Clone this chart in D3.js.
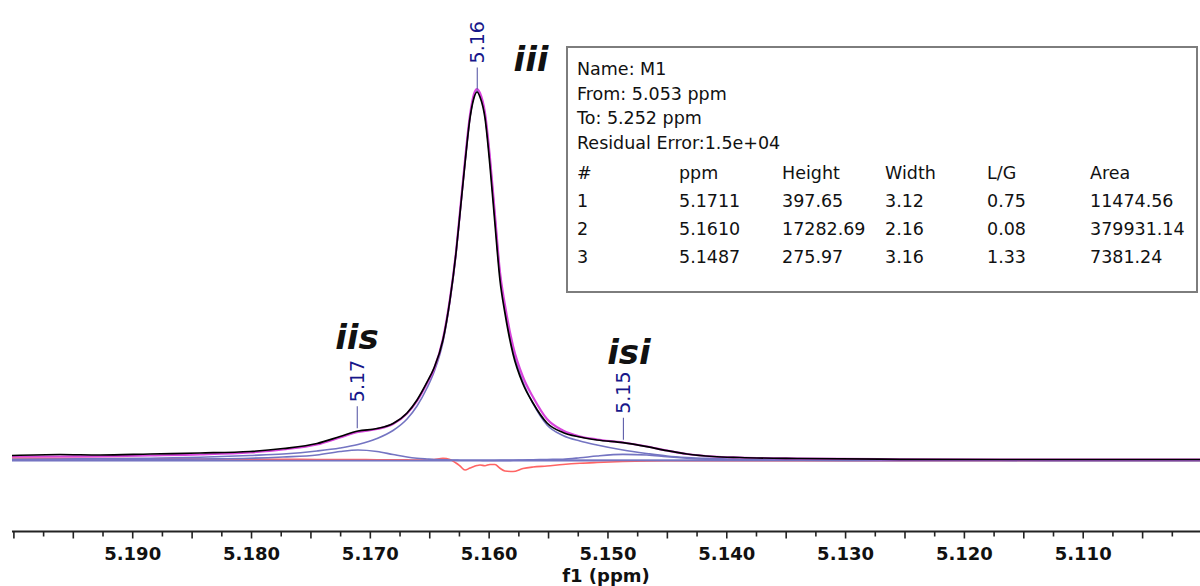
<!DOCTYPE html>
<html>
<head>
<meta charset="utf-8">
<script src="https://cdn.jsdelivr.net/npm/d3@7"></script>
<style>
  html, body { margin: 0; padding: 0; background: #fff; }
  svg { display: block; }
</style>
</head>
<body>
<svg id="chart" width="1200" height="586"></svg>
<script>
// Chemical shift grid (ppm) shared by every trace
const ppm = [5.20016, 5.19612, 5.19275, 5.18854, 5.18434, 5.18013, 5.17735, 5.17449, 5.17255, 5.17104,
  5.16944, 5.16809, 5.16691, 5.16607, 5.16523, 5.16464, 5.16389, 5.16330, 5.16279, 5.16245,
  5.16203, 5.16161, 5.16128, 5.16102, 5.16077, 5.16035, 5.15993, 5.15951, 5.15909, 5.15867,
  5.15799, 5.15715, 5.15631, 5.15513, 5.15379, 5.15236, 5.15092, 5.14874, 5.14672, 5.14503,
  5.14335, 5.14116, 5.13889, 5.13384, 5.12542, 5.11701, 5.10859, 5.10017];

// Measured spectrum
const spectrum = [234, 280, 257, 304, 350, 420, 560, 794, 1121, 1378,
  1494, 1728, 2218, 2825, 3656, 4320, 5627, 7495, 9690, 11558,
  13893, 15995, 16929, 17209, 16975, 15995, 13753, 11045, 8429, 6888,
  4974, 3572, 2685, 1752, 1308, 1097, 957, 831, 644, 458,
  304, 187, 140, 93, 56, 47, 47, 47];

// Sum of fitted lines
const fitSum = [187, 187, 196, 234, 280, 374, 514, 747, 1074, 1331,
  1471, 1705, 2195, 2779, 3609, 4273, 5674, 7542, 9737, 11652,
  14033, 16135, 17116, 17349, 17162, 16228, 14127, 11465, 8803, 7262,
  5347, 3899, 2965, 1938, 1401, 1121, 981, 841, 654, 467,
  304, 187, 140, 93, 56, 47, 47, 47];

// Fitted line 1 (5.1711 ppm)
const line1 = [14, 19, 23, 42, 70, 103, 163, 257, 420, 490,
  420, 280, 163, 107, 70, 47, 37, 23, 19, 14,
  9, 9, 9, 9, 9, 7, 7, 7, 5, 5,
  5, 5, 5, 5, 5, 5, 5, 5, 5, 5,
  5, 5, 5, 5, 3, 2, 1, 0];

// Fitted line 2 (5.1610 ppm)
const line2 = [56, 70, 79, 107, 149, 234, 304, 444, 584, 747,
  1027, 1401, 1938, 2545, 3386, 4133, 5534, 7448, 9644, 11558,
  13940, 16041, 17022, 17279, 17069, 16135, 14033, 11371, 8710, 7075,
  5160, 3666, 2662, 1658, 1168, 911, 724, 490, 327, 210,
  140, 93, 61, 33, 14, 9, 5, 5];

// Fitted line 3 (5.1487 ppm)
const line3 = [0, 0, 0, 0, 0, 0, 0, 0, 0, 0,
  0, 0, 0, 0, 0, 0, 0, 0, 0, 0,
  0, 0, 0, 0, 0, 0, 2, 3, 4, 5,
  9, 23, 33, 47, 61, 126, 210, 286, 257, 173,
  107, 51, 23, 9, 5, 5, 5, 5];

// Residual (measured minus fit)
const residual = [117, 103, 93, 84, 70, 61, 56, 47, 42, 42,
  37, 33, 28, 23, 23, 47, 103, 47, -117, -257,
  -444, -350, -280, -234, -210, -243, -187, -187, -364, -490,
  -514, -374, -304, -257, -187, -131, -93, -47, -23, -14,
  -9, -5, -5, -5, -5, -5, -5, -5];

// Axis ticks
const minorTicks = d3.range(0, 40).map(i => +(5.2 - i * 0.0025).toFixed(4));
const majorTicks = [5.19, 5.18, 5.17, 5.16, 5.15, 5.14, 5.13, 5.12, 5.11];
const axisTitle = "f1 (ppm)";

// Peak picks and their tags
const peakNo = [1, 2, 3];
const peakPpm = [5.1711, 5.1610, 5.1487];
const peakHeight = [397.65, 17282.69, 275.97];
const peakWidth = [3.12, 2.16, 3.16];
const peakLG = [0.75, 0.08, 1.33];
const peakArea = [11474.56, 379931.14, 7381.24];
const peakTags = ["iis", "iii", "isi"];

// Fit report
const fitInfo = ["Name: M1", "From: 5.053 ppm", "To: 5.252 ppm", "Residual Error:1.5e+04"];
const tableHead = ["#", "ppm", "Height", "Width", "L/G", "Area"];

const svg = d3.select("#chart");

const x = d3.scaleLinear().domain([5.20016, 5.10017]).range([12, 1200]);
const y = d3.scaleLinear().domain([0, 21505]).range([460.5, 0]);

const line = vals => d3.line()
  .x((d, i) => x(ppm[i]))
  .y(d => y(d))
  .curve(d3.curveMonotoneX)(vals);

const traces = svg.append("g").attr("fill", "none").attr("stroke-linejoin", "round");

// zero line
traces.append("path")
  .attr("d", d3.line()([[x(ppm[0]), y(0)], [x(ppm[ppm.length - 1]), y(0)]]))
  .attr("stroke", "#3535a5").attr("stroke-width", 1.6);

traces.append("path").attr("d", line(residual))
  .attr("stroke", "#ff6464").attr("stroke-width", 1.6);

[line1, line2, line3].forEach(vals => {
  traces.append("path").attr("d", line(vals))
    .attr("stroke", "#7474c2").attr("stroke-width", 1.6);
});

traces.append("path").attr("d", line(fitSum))
  .attr("stroke", "#d844dc").attr("stroke-width", 2.2);

traces.append("path").attr("d", line(spectrum))
  .attr("stroke", "#000").attr("stroke-width", 1.7);

// Peak labels: leader line above the measured trace, rotated value text
const spectrumAt = p => {
  const xs = ppm.map(v => -v);
  const ys = spectrum;
  const i = d3.bisectLeft(xs, -p);
  const t = (-p - xs[i - 1]) / (xs[i] - xs[i - 1]);
  return ys[i - 1] + t * (ys[i] - ys[i - 1]);
};

const fmt2 = d3.format(".2f");
const peaks = svg.append("g");
peakPpm.forEach((p, i) => {
  const px = x(p);
  const bottom = y(spectrumAt(p)) - 3;
  const top = bottom - 22;
  peaks.append("line")
    .attr("x1", px).attr("x2", px).attr("y1", top).attr("y2", bottom)
    .attr("stroke", "#5c5ca8").attr("stroke-width", 1.1);
  peaks.append("text")
    .attr("transform", `translate(${px},${top - 4}) rotate(-90)`)
    .attr("dy", "0.36em")
    .attr("font-family", "DejaVu Sans, Verdana, sans-serif")
    .attr("font-size", 19)
    .attr("fill", "#17178a")
    .text(fmt2(p));
});

// Multiplet tags
const tagPos = [[357, 349], [531, 71], [629, 364]];
peakTags.forEach((t, i) => {
  svg.append("text")
    .attr("x", tagPos[i][0]).attr("y", tagPos[i][1])
    .attr("text-anchor", "middle")
    .attr("font-family", "DejaVu Sans, Verdana, sans-serif")
    .attr("font-size", 34)
    .attr("font-weight", "bold")
    .attr("font-style", "italic")
    .attr("fill", "#111")
    .text(t);
});

// Fit report box
const box = svg.append("g").attr("font-family", "DejaVu Sans, Verdana, sans-serif")
  .attr("font-size", 17.5).attr("fill", "#111");
box.append("rect")
  .attr("x", 567).attr("y", 47).attr("width", 630).attr("height", 245)
  .attr("fill", "#fff").attr("stroke", "#7d7d7d").attr("stroke-width", 2);
const infoY = [75, 100, 124, 149];
fitInfo.forEach((s, i) => box.append("text").attr("x", 577).attr("y", infoY[i]).text(s));
const colX = [577, 679, 782, 885, 987, 1090];
tableHead.forEach((s, j) => box.append("text").attr("x", colX[j]).attr("y", 179).text(s));
const f4 = d3.format(".4f");
peakNo.forEach((n, i) => {
  const cells = [String(n), f4(peakPpm[i]), fmt2(peakHeight[i]), fmt2(peakWidth[i]), fmt2(peakLG[i]), fmt2(peakArea[i])];
  cells.forEach((s, j) => box.append("text").attr("x", colX[j]).attr("y", 207 + i * 28).text(s));
});

// Chemical shift axis
const axisY = 531.5;
const ax = svg.append("g").attr("transform", `translate(0,${axisY})`);
ax.append("line").attr("x1", 12).attr("x2", 1200).attr("stroke", "#222").attr("stroke-width", 2);
ax.selectAll("line.tick").data(minorTicks).join("line")
  .attr("class", "tick")
  .attr("x1", d => x(d)).attr("x2", d => x(d))
  .attr("y1", 0)
  .attr("y2", d => (Math.abs(Math.round(d * 200) - d * 200) < 1e-6) ? 7 : 5)
  .attr("stroke", "#222").attr("stroke-width", 1.6);
const fmt3 = d3.format(".3f");
ax.selectAll("text.lbl").data(majorTicks).join("text")
  .attr("class", "lbl")
  .attr("x", d => x(d)).attr("y", 28.5)
  .attr("text-anchor", "middle")
  .attr("font-family", "DejaVu Sans, Verdana, sans-serif")
  .attr("font-weight", "bold").attr("font-size", 18)
  .attr("fill", "#111")
  .text(d => fmt3(d));
svg.append("text")
  .attr("x", 606).attr("y", 582)
  .attr("text-anchor", "middle")
  .attr("font-family", "DejaVu Sans, Verdana, sans-serif")
  .attr("font-weight", "bold").attr("font-size", 18)
  .attr("fill", "#111")
  .text(axisTitle);
</script>
</body>
</html>
